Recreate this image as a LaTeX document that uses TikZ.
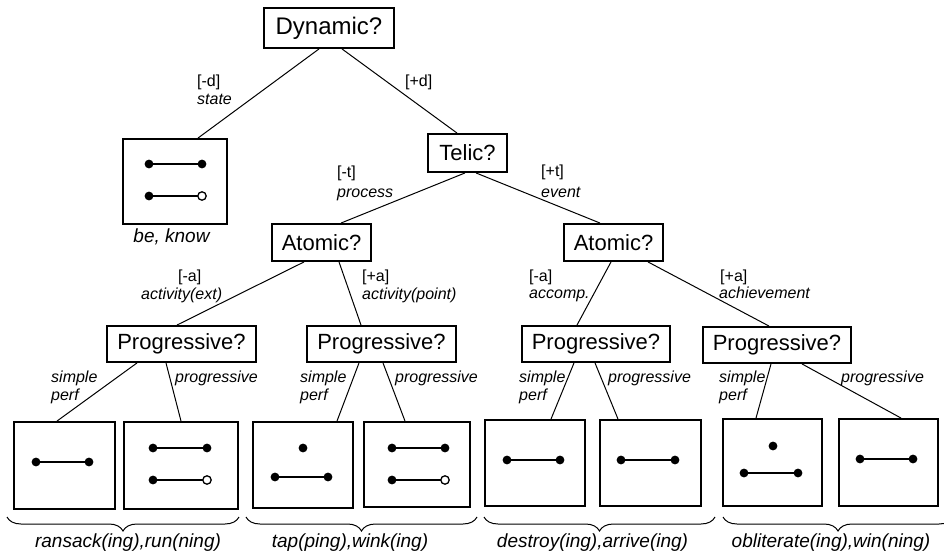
\documentclass[tikz,border=0pt]{standalone}
\usepackage{fontspec}
\setmainfont{Liberation Sans}
\usetikzlibrary{decorations.pathreplacing,calc}
\tikzset{
  qbox/.style={draw, line width=1.9pt, inner sep=0pt, font=\fontsize{22}{26}\selectfont},
  leaf/.style={draw, line width=1.9pt, inner sep=0pt},
  conn/.style={line width=1pt},
  lbl/.style={inner sep=0pt, anchor=base west, font=\fontsize{16}{19}\selectfont},
  ilbl/.style={inner sep=0pt, anchor=base west, font=\fontsize{16}{19}\selectfont\itshape},
  blbl/.style={inner sep=0pt, anchor=base, font=\fontsize{19}{23}\selectfont\itshape},
  seg/.style={line width=2.9pt},
  brc/.style={line width=1pt, decorate, decoration={brace, mirror, amplitude=14pt}},
}
\newcommand\pdotX[2]{\fill (#1,#2) circle (4.4pt);}
\newcommand\segCC[3]{\draw[seg] (#1,#3) -- (#2,#3); \fill (#1,#3) circle (4.4pt); \fill (#2,#3) circle (4.4pt);}
\newcommand\segCO[3]{\draw[seg] (#1,#3) -- (#2,#3); \fill (#1,#3) circle (4.4pt); \draw[line width=1.3pt, fill=white] (#2,#3) circle (4.2pt);}
\begin{document}
\begin{tikzpicture}[x=1pt, y=-1pt]
\useasboundingbox (0,0) rectangle (944,556);
\clip (0,0) rectangle (944,556);
\fill[white] (0,0) rectangle (944,556);

% question boxes
\node[qbox, minimum width=130pt, minimum height=40pt] (dyn) at (329,28) {\fontsize{24}{28}\selectfont Dynamic?};
\node[qbox, minimum width=79pt, minimum height=38pt] (tel) at (467.5,153) {Telic?};
\node[qbox, minimum width=99pt, minimum height=37pt] (atL) at (321.5,242.5) {Atomic?};
\node[qbox, minimum width=99pt, minimum height=37pt] (atR) at (613.5,242.5) {Atomic?};
\node[qbox, minimum width=149pt, minimum height=36pt] (p1) at (181.5,344) {Progressive?};
\node[qbox, minimum width=149pt, minimum height=36pt] (p2) at (381.5,344) {Progressive?};
\node[qbox, minimum width=148pt, minimum height=36pt] (p3) at (596,344) {Progressive?};
\node[qbox, minimum width=148pt, minimum height=36pt] (p4) at (777,345) {Progressive?};

% leaf boxes
\node[leaf, minimum width=104pt, minimum height=85pt] (st) at (175,181.5) {};
\node[leaf, minimum width=101pt, minimum height=87pt] (b1) at (64.5,465.5) {};
\node[leaf, minimum width=114pt, minimum height=87pt] (b2) at (181,465.5) {};
\node[leaf, minimum width=100pt, minimum height=86pt] (b3) at (303,465) {};
\node[leaf, minimum width=106pt, minimum height=85pt] (b4) at (417,464.5) {};
\node[leaf, minimum width=100pt, minimum height=86pt] (b5) at (535,463) {};
\node[leaf, minimum width=101pt, minimum height=86pt] (b6) at (650.5,463) {};
\node[leaf, minimum width=99pt, minimum height=87pt] (b7) at (772.5,462.5) {};
\node[leaf, minimum width=99pt, minimum height=87pt] (b8) at (888.5,462.5) {};

% box contents
\segCC{149}{202}{164}
\segCO{149}{202}{196}
\segCC{36}{89}{462}
\segCC{153}{207}{448}
\segCO{153}{207}{480}
\pdotX{303}{448}
\segCC{275}{328}{477}
\segCC{392}{445}{448}
\segCO{392}{445}{480}
\segCC{507}{560}{460}
\segCC{621}{675}{460}
\pdotX{773}{446}
\segCC{744}{798}{473}
\segCC{860}{913}{459}

% connectors
\draw[conn] ([xshift=-10pt]dyn.south) -- ([xshift=23pt]st.north);
\draw[conn] ([xshift=13pt]dyn.south) -- ([xshift=-10.5pt]tel.north);
\draw[conn] ([xshift=-2.5pt]tel.south) -- ([xshift=19.5pt]atL.north);
\draw[conn] ([xshift=8.5pt]tel.south) -- ([xshift=-13.5pt]atR.north);
\draw[conn] ([xshift=-17.5pt]atL.south) -- ([xshift=-4.5pt]p1.north);
\draw[conn] ([xshift=17.5pt]atL.south) -- ([xshift=-20.5pt]p2.north);
\draw[conn] ([xshift=-2.5pt]atR.south) -- ([xshift=-19pt]p3.north);
\draw[conn] ([xshift=34.5pt]atR.south) -- ([xshift=-8pt]p4.north);
\draw[conn] ([xshift=-44.5pt]p1.south) -- ([xshift=-7.5pt]b1.north);
\draw[conn] ([xshift=-15.5pt]p1.south) -- ([xshift=0pt]b2.north);
\draw[conn] ([xshift=-22.5pt]p2.south) -- ([xshift=34pt]b3.north);
\draw[conn] ([xshift=1.5pt]p2.south) -- ([xshift=-12pt]b4.north);
\draw[conn] ([xshift=-22pt]p3.south) -- ([xshift=16pt]b5.north);
\draw[conn] ([xshift=-1pt]p3.south) -- ([xshift=-32.5pt]b6.north);
\draw[conn] ([xshift=-6pt]p4.south) -- ([xshift=-16.5pt]b7.north);
\draw[conn] ([xshift=25pt]p4.south) -- ([xshift=12.5pt]b8.north);

% branch labels
\node[lbl] (ld1) at (197,87) {[-d]};
\node[ilbl] (ld2) at (197,105) {state};
\node[lbl] (ld3) at (405,87) {[+d]};
\node[lbl] (lt1) at (337,178) {[-t]};
\node[ilbl] (lt2) at (337,197) {process};
\node[lbl] (lt3) at (541,177) {[+t]};
\node[ilbl] (lt4) at (541,197) {event};
\node[lbl] (la1) at (178,281) {[-a]};
\node[ilbl] (la2) at (141,299) {activity(ext)};
\node[lbl] (la3) at (362,281) {[+a]};
\node[ilbl] (la4) at (362,299) {activity(point)};
\node[lbl] (la5) at (529,281) {[-a]};
\node[ilbl] (la6) at (529,298) {accomp.};
\node[lbl] (la7) at (720,281) {[+a]};
\node[ilbl] (la8) at (719,298) {achievement};

\node[ilbl] (s1) at (51,382) {simple};
\node[ilbl] (s2) at (51,400) {perf};
\node[ilbl] (s3) at (175,382) {progressive};
\node[ilbl] (s4) at (300,382) {simple};
\node[ilbl] (s5) at (300,400) {perf};
\node[ilbl] (s6) at (395,382) {progressive};
\node[ilbl] (s7) at (519,382) {simple};
\node[ilbl] (s8) at (519,400) {perf};
\node[ilbl] (s9) at (608,382) {progressive};
\node[ilbl] (s10) at (719,382) {simple};
\node[ilbl] (s11) at (719,400) {perf};
\node[ilbl] (s12) at (841,382) {progressive};

% braces
\coordinate (br1a) at (7,517);  \coordinate (br1b) at (239,517);
\coordinate (br2a) at (246,517); \coordinate (br2b) at (477,517);
\coordinate (br3a) at (484,517); \coordinate (br3b) at (715,517);
\coordinate (br4a) at (723,517); \coordinate (br4b) at (953,517);
\draw[brc] (br1a) -- (br1b);
\draw[brc] (br2a) -- (br2b);
\draw[brc] (br3a) -- (br3b);
\draw[brc] (br4a) -- (br4b);

% bottom labels
\node[blbl] (bk) at (171.5,242) {be, know};
\node[blbl] (g1) at (128,547) {ransack(ing),run(ning)};
\node[blbl] (g2) at (350,547) {tap(ping),wink(ing)};
\node[blbl] (g3) at (592.5,547) {destroy(ing),arrive(ing)};
\node[blbl] (g4) at (831,547) {obliterate(ing),win(ning)};
\end{tikzpicture}
\end{document}
